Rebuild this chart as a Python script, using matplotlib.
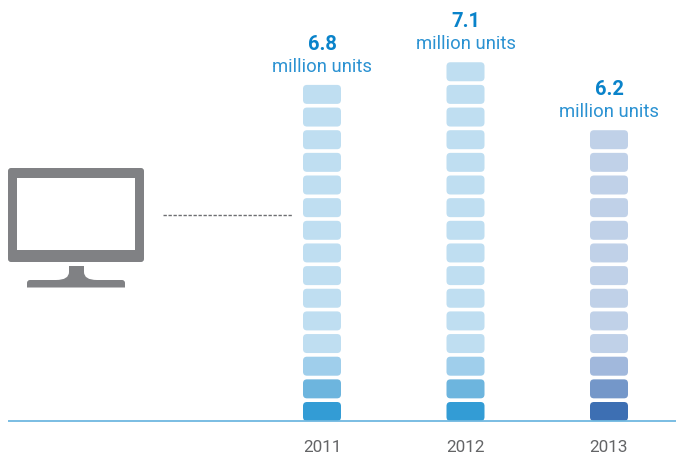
import matplotlib
matplotlib.use('Agg')
import matplotlib.pyplot as plt
from matplotlib.patches import FancyBboxPatch, PathPatch, Rectangle
from matplotlib.path import Path

# Shipments per year, each stack block is drawn once per unit of block_counts
years = ['2011', '2012', '2013']
units = ['6.8', '7.1', '6.2']
block_counts = [15, 16, 13]

# colours from the bottom block upward, the last one repeats to the top
blues = ['#339cd5', '#6db5de', '#9fceeb', '#bfdef1']
navy = ['#3d6fb3', '#7497c9', '#a1b8dc', '#c0d1e8']
palettes = [blues, blues, navy]

plt.rcParams['font.family'] = ['Roboto', 'DejaVu Sans']

fig = plt.figure(figsize=(6.76, 4.58), dpi=100)
ax = fig.add_axes([0, 0, 1, 1])
ax.set_xlim(0, 676)
ax.set_ylim(458, 0)
ax.axis('off')

# stack layout, in pixels
first_x = 322
col_step = 143.5
base_y = 421
block_w = 38
block_h = 19
pitch = 22.65
gray = '#808184'

for i, year in enumerate(years):
    cx = first_x + i * col_step
    n = block_counts[i]
    for k in range(n):
        color = palettes[i][min(k, 3)]
        top = base_y - block_h - k * pitch
        r = 4
        ax.add_patch(FancyBboxPatch((cx - block_w / 2 + r, top + r), block_w - 2 * r, block_h - 2 * r,
                                    boxstyle='round,pad=%d,rounding_size=%d' % (r, r),
                                    fc=color, ec='none', zorder=2))
    stack_top = base_y - block_h - (n - 1) * pitch
    ax.text(cx, stack_top - 18, 'million units', ha='center', va='center',
            fontsize=13.3, color='#2b92d2')
    ax.text(cx, stack_top - 40.5, units[i], ha='center', va='center',
            fontsize=14.5, fontweight='bold', color='#0a83ca')
    ax.text(cx, 447, year, ha='center', va='center', fontsize=12.3,
            color='#636466')

# baseline
ax.plot([8, 676], [base_y, base_y], color='#6fb8e0', lw=1.3, zorder=3, solid_capstyle='butt')

# leader line from the monitor
ax.plot([163, 292], [215, 215], color='#6d6e71', lw=1, dashes=(2.4, 1.2))

# monitor icon
ax.add_patch(FancyBboxPatch((11, 171), 130, 88, boxstyle='round,pad=3,rounding_size=3',
                            fc=gray, ec='none'))
ax.add_patch(Rectangle((17, 178), 118, 71.5, fc='white', ec='none'))
stand = [(Path.MOVETO, (69, 266)), (Path.LINETO, (84, 266)), (Path.LINETO, (84, 272)),
         (Path.CURVE3, (84, 280)), (Path.CURVE3, (97, 280)),
         (Path.LINETO, (122, 280)), (Path.CURVE3, (125, 280)), (Path.CURVE3, (125, 283)),
         (Path.LINETO, (125, 287.5)), (Path.LINETO, (27, 287.5)), (Path.LINETO, (27, 283)),
         (Path.CURVE3, (27, 280)), (Path.CURVE3, (30, 280)),
         (Path.LINETO, (56, 280)), (Path.CURVE3, (69, 280)), (Path.CURVE3, (69, 272)),
         (Path.CLOSEPOLY, (69, 266))]
codes, verts = zip(*stand)
ax.add_patch(PathPatch(Path(verts, codes), fc=gray, ec='none'))

fig.savefig('out.png', dpi=100)
